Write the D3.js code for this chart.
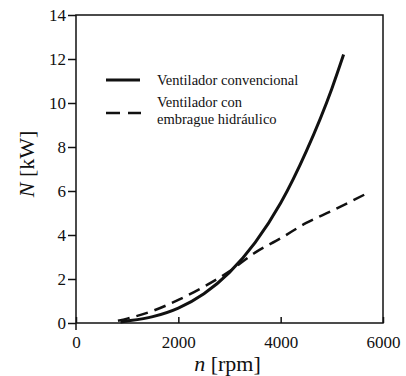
<!DOCTYPE html>
<html>
<head>
<meta charset="utf-8">
<script src="https://cdn.jsdelivr.net/npm/d3@7"></script>
<style>
  body { margin: 0; background: #fff; }
  svg { display: block; }
  svg text { font-family: "Liberation Serif", "Times New Roman", Times, "DejaVu Serif", serif; }
  .tick text { font-size: 17px; fill: #111; }
</style>
</head>
<body>
<svg id="chart"></svg>
<script>
// values
const convN   = [870, 1000, 1500, 2000, 2500, 3000, 3500, 4000, 4500, 5000, 5230];
const convP   = [0.05, 0.09, 0.29, 0.68, 1.33, 2.3, 3.65, 5.45, 7.8, 10.65, 12.2];
const hydN    = [820, 1000, 1500, 2000, 2500, 3000, 3500, 4000, 4500, 5000, 5650];
const hydP    = [0.1, 0.2, 0.55, 1.05, 1.65, 2.35, 3.2, 3.85, 4.55, 5.1, 5.85];
const xTicks  = [0, 2000, 4000, 6000];
const yTicks  = [0, 2, 4, 6, 8, 10, 12, 14];
const legendLabels = [['Ventilador convencional'], ['Ventilador con', 'embrague hidráulico']];

const W = 406, H = 376;
const margin = {top: 15, right: 23, bottom: 53, left: 76};
const width = W - margin.left - margin.right;
const height = H - margin.top - margin.bottom;

const svg = d3.select('#chart').attr('width', W).attr('height', H);
const g = svg.append('g').attr('transform', `translate(${margin.left},${margin.top})`);

const x = d3.scaleLinear().domain([0, 6000]).range([0, width]);
const y = d3.scaleLinear().domain([0, 14]).range([height, 0]);

// frame
g.append('rect')
    .attr('width', width).attr('height', height)
    .attr('fill', 'none').attr('stroke', '#111').attr('stroke-width', 1.5);

// y axis, ticks out to the left
const yAxisG = g.append('g')
    .call(d3.axisLeft(y).tickValues(yTicks).tickSize(8).tickPadding(2))
    .call(a => a.select('.domain').remove())
    .attr('font-family', null);
yAxisG.selectAll('line').attr('stroke', '#111').attr('stroke-width', 1.5);

// x axis, ticks pointing inward
const xAxisG = g.append('g')
    .attr('transform', `translate(0,${height})`)
    .call(d3.axisBottom(x).tickValues(xTicks).tickFormat(d3.format('d'))
        .tickSizeInner(-6).tickSizeOuter(0).tickPadding(13))
    .call(a => a.select('.domain').remove())
    .attr('font-family', null);
xAxisG.selectAll('line').attr('stroke', '#111').attr('stroke-width', 1.5);

// y axis runs a bit below the x axis at 0
g.append('line')
    .attr('x1', x(0)).attr('x2', x(0))
    .attr('y1', height).attr('y2', height + 7)
    .attr('stroke', '#111').attr('stroke-width', 1.5);

const line = d3.line()
    .x(d => x(d[0]))
    .y(d => y(d[1]))
    .curve(d3.curveMonotoneX);

g.append('path')
    .datum(d3.zip(convN, convP))
    .attr('d', line)
    .attr('fill', 'none').attr('stroke', '#111').attr('stroke-width', 3);

g.append('path')
    .datum(d3.zip(hydN, hydP))
    .attr('d', line)
    .attr('fill', 'none').attr('stroke', '#111').attr('stroke-width', 2.5)
    .attr('stroke-dasharray', '12,7');

// legend
const legend = svg.append('g')
    .style('font-size', '14.5px')
    .attr('fill', '#111');

legend.append('line')
    .attr('x1', 106).attr('x2', 140).attr('y1', 80).attr('y2', 80)
    .attr('stroke', '#111').attr('stroke-width', 3);
legend.append('text').attr('x', 157).attr('y', 85).text(legendLabels[0][0]);

legend.append('line')
    .attr('x1', 106).attr('x2', 141).attr('y1', 113).attr('y2', 113)
    .attr('stroke', '#111').attr('stroke-width', 2.5)
    .attr('stroke-dasharray', '14,8');
legend.append('text').attr('x', 157).attr('y', 107).text(legendLabels[1][0]);
legend.append('text').attr('x', 157).attr('y', 124).text(legendLabels[1][1]);

// axis titles
const yTitle = svg.append('text')
    .attr('transform', `translate(34,${margin.top + height / 2 - 5}) rotate(-90)`)
    .attr('text-anchor', 'middle')
    .style('font-size', '22px')
    .attr('fill', '#111');
yTitle.append('tspan').style('font-style', 'italic').text('N');
yTitle.append('tspan').text(' [kW]');

const xTitle = svg.append('text')
    .attr('x', margin.left + width / 2 - 2)
    .attr('y', 371)
    .attr('text-anchor', 'middle')
    .style('font-size', '22px')
    .attr('fill', '#111');
xTitle.append('tspan').style('font-style', 'italic').text('n');
xTitle.append('tspan').text(' [rpm]');
</script>
</body>
</html>
